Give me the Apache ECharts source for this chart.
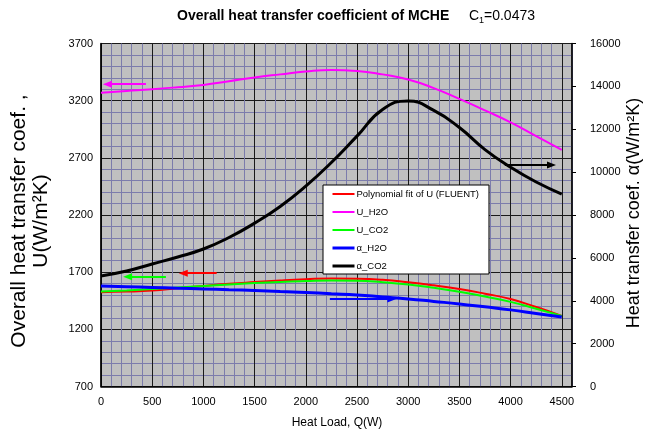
<!DOCTYPE html>
<html><head><meta charset="utf-8">
<script src="https://cdn.jsdelivr.net/npm/echarts@6/dist/echarts.min.js"></script>
<style>html,body{margin:0;padding:0;background:#fff}#c{width:651px;height:429px}</style>
</head><body><div id="c"></div>
<script>
// ---- data ----
const heatLoad = [0,250,500,750,1000,1250,1500,1750,2000,2250,2500,2750,3000,3250,3500,3750,4000,4250,4500];
const uFit  = [1525,1530,1540,1560,1580,1598,1613,1627,1638,1645,1643,1633,1612,1585,1553,1512,1465,1395,1318];
const uH2O  = [3270,3285,3300,3318,3338,3370,3403,3430,3455,3468,3460,3430,3385,3310,3215,3115,3010,2890,2770];
const uCO2  = [1530,1540,1552,1565,1578,1592,1605,1615,1622,1627,1625,1612,1592,1563,1528,1487,1440,1380,1318];
const aH2O  = [4692,4657,4622,4587,4552,4517,4482,4436,4389,4330,4272,4180,4086,3970,3853,3715,3574,3410,3247];
const aCO2  = [5158,5390,5717,6043,6415,6950,7620,8400,9350,10450,11680,12920,13320,12880,12080,11050,10230,9540,8978];
const seriesNames = ['Polynomial fit of U (FLUENT)','U_H2O','U_CO2','\u03b1_H2O','\u03b1_CO2'];
const xTickLabels = [0,500,1000,1500,2000,2500,3000,3500,4000,4500];
const leftTickLabels = [700,1200,1700,2200,2700,3200,3700];
const rightTickLabels = [0,2000,4000,6000,8000,10000,12000,14000,16000];
// annotation arrows (data space): [from, to]
const arrowFit   = [[1130,1691],[803,1691]];
const arrowUH2O  = [[439,3344],[62,3344]];
const arrowUCO2  = [[634,1661],[260,1661]];
const arrowAH2O  = [[2235,4086],[2840,4086]];
const arrowACO2  = [[3944,10329],[4400,10329]];

const FONT = "'Liberation Sans', Arial, sans-serif";
const MAJOR = '#1a1a1a', MINOR = '#7c7cac';
const colors = ['#ff0000','#ff00ff','#00ff00','#0000ff','#000000'];
const widths = [2,2,2,3,3];
function cycle(n){const a=[MAJOR];for(let i=1;i<n;i++)a.push(MINOR);return a;}
function pair(vals){return heatLoad.map((q,i)=>[q,vals[i]]);}
function arrowML(arr,color){
  return {silent:true, symbol:['none','triangle'], symbolSize:[7,9], animation:false,
    label:{show:false}, lineStyle:{color:color,width:2,type:'solid'},
    emphasis:{disabled:true},
    data:[[{coord:arr[0]},{coord:arr[1]}]]};
}
const seriesData = [uFit,uH2O,uCO2,aH2O,aCO2];
const axisIdx = [0,0,0,1,1];
const arrows = [arrowFit,arrowUH2O,arrowUCO2,arrowAH2O,arrowACO2];

const chart = echarts.init(document.getElementById('c'));
chart.setOption({
  animation:false,
  backgroundColor:'#fff',
  textStyle:{fontFamily:FONT},
  grid:{left:101,top:43.5,width:471,height:343,show:true,backgroundColor:'#c0c0c0',borderColor:'#000',borderWidth:1,containLabel:false},
  legend:{
    show:true, orient:'vertical', left:323, top:185, selectedMode:false,
    backgroundColor:'#fff', borderColor:'#000', borderWidth:1,
    padding:[4,10,3,8], itemGap:8, itemWidth:22, itemHeight:10,
    itemStyle:{opacity:0},
    textStyle:{fontFamily:FONT,fontSize:9.5,color:'#000',padding:[0,0,0,-3]},
    data:seriesNames.map((n,i)=>({name:n,lineStyle:{color:colors[i],width:widths[i]}}))
  },
  xAxis:[{
    type:'value', min:0, max:4600, interval:100,
    axisLine:{show:true,lineStyle:{color:'#000',width:1.5}},
    axisTick:{show:false},
    axisLabel:{fontFamily:FONT,fontSize:11,color:'#000',margin:10,
      formatter:v=>xTickLabels.indexOf(v)>=0?String(v):''},
    splitLine:{show:true,lineStyle:{color:cycle(5),width:1}}
  }],
  yAxis:[{
    type:'value', min:700, max:3700, interval:100, position:'left',
    axisLine:{show:true,lineStyle:{color:'#000',width:1.5}},
    axisTick:{show:false},
    axisLabel:{fontFamily:FONT,fontSize:11,color:'#000',margin:8,
      formatter:v=>leftTickLabels.indexOf(v)>=0?String(v):''},
    splitLine:{show:true,lineStyle:{color:cycle(5),width:1}}
  },{
    type:'value', min:0, max:16000, interval:2000, position:'right',
    axisLine:{show:true,lineStyle:{color:'#000',width:1.5}},
    axisTick:{show:true,inside:false,length:4,lineStyle:{color:'#000'}},
    axisLabel:{fontFamily:FONT,fontSize:11,color:'#000',margin:18,
      formatter:v=>rightTickLabels.indexOf(v)>=0?String(v):''},
    splitLine:{show:false}
  }],
  series:seriesNames.map((n,i)=>({
    name:n,type:'line',yAxisIndex:axisIdx[i],data:pair(seriesData[i]),smooth:true,symbol:'none',
    lineStyle:{color:colors[i],width:widths[i]},itemStyle:{color:colors[i]},
    markLine:arrowML(arrows[i],colors[i])
  })),
  graphic:[
    {type:'text',left:177,top:9,style:{text:'Overall heat transfer coefficient of MCHE',font:"bold 14px "+FONT,fill:'#000'}},
    {type:'text',left:469,top:9,style:{text:'C',font:"14px "+FONT,fill:'#000'}},
    {type:'text',left:479,top:16,style:{text:'1',font:"9px "+FONT,fill:'#000'}},
    {type:'text',left:484,top:9,style:{text:'=0.0473',font:"14px "+FONT,fill:'#000'}},
    {type:'text',x:30.5,y:221,rotation:Math.PI/2,style:{text:'Overall heat transfer coef. ,\nU(W/m\u00b2K)',font:"21px "+FONT,fill:'#000',align:'center',verticalAlign:'middle',lineHeight:22}},
    {type:'text',x:634,y:213,rotation:Math.PI/2,style:{text:'Heat transfer coef. \u03b1(W/m\u00b2K)',font:"18px "+FONT,fill:'#000',align:'center',verticalAlign:'middle'}},
    {type:'text',x:337,y:423,style:{text:'Heat Load, Q(W)',font:"12px "+FONT,fill:'#000',align:'center',verticalAlign:'middle'}}
  ]
});
</script></body></html>
